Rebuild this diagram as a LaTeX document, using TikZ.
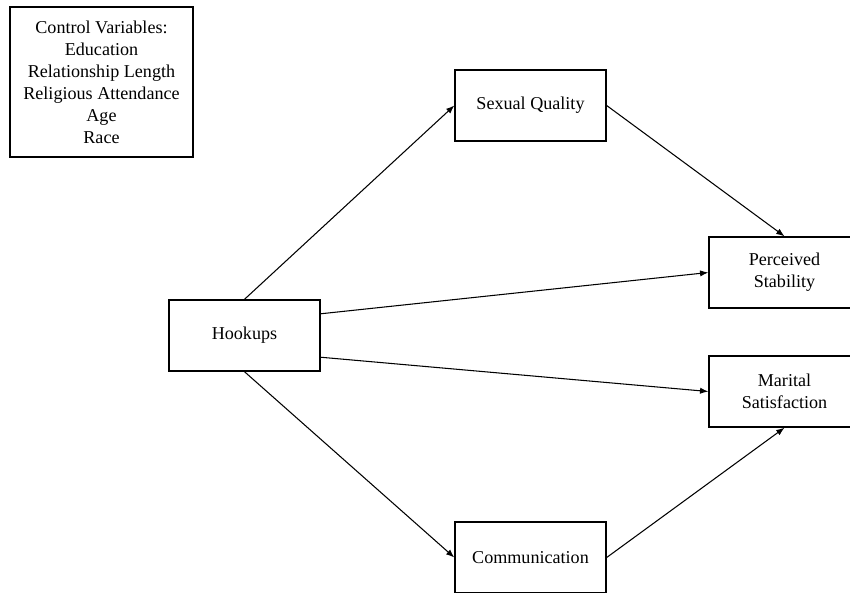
\documentclass[tikz,border=0pt]{standalone}
\usepackage{fontspec}
\setmainfont{Liberation Serif}
\usetikzlibrary{arrows.meta, positioning, calc}
\tikzset{
  cajaBase/.style={
    draw=black, line width=1pt,
    minimum width=100pt, minimum height=47pt,
    align=center, font=\fontsize{12}{14.6}\selectfont, inner sep=2pt
  },
  cajaControl/.style={cajaBase, minimum width=121pt, minimum height=99.5pt},
  flecha/.style={-{Latex[length=5.5pt, width=4.2pt]}, line width=0.7pt, black},
}
\begin{document}
\begin{tikzpicture}[x=0.663pt, y=-0.663pt]
    \useasboundingbox (0,0) rectangle (850,592);

    \node[cajaControl] (control) at (101.5,82) {Control Variables:\\Education\\Relationship Length\\Religious Attendance\\Age\\Race};

    \node[cajaBase] (hookups) at (244.5,335.5) {Hookups};
    \node[cajaBase] (sexual) at (530.5,105.5) {Sexual Quality};
    \node[cajaBase] (comm) at (530.5,557.5) {Communication};
    \node[cajaBase] (perceived) at (784.5,272.5) {Perceived\\Stability};
    \node[cajaBase] (marital) at (784.5,391.5) {Marital\\Satisfaction};

    % rutas desde hookups
    \draw[flecha] (hookups.north) -- (sexual.west);
    \draw[flecha] ($(hookups.north east)!0.2!(hookups.south east)$) -- (perceived.west);
    \draw[flecha] ($(hookups.north east)!0.8!(hookups.south east)$) -- (marital.west);
    \draw[flecha] (hookups.south) -- (comm.west);

    % mediadores
    \draw[flecha] (sexual.east) -- (perceived.north);
    \draw[flecha] (comm.east) -- (marital.south);
\end{tikzpicture}
\end{document}
